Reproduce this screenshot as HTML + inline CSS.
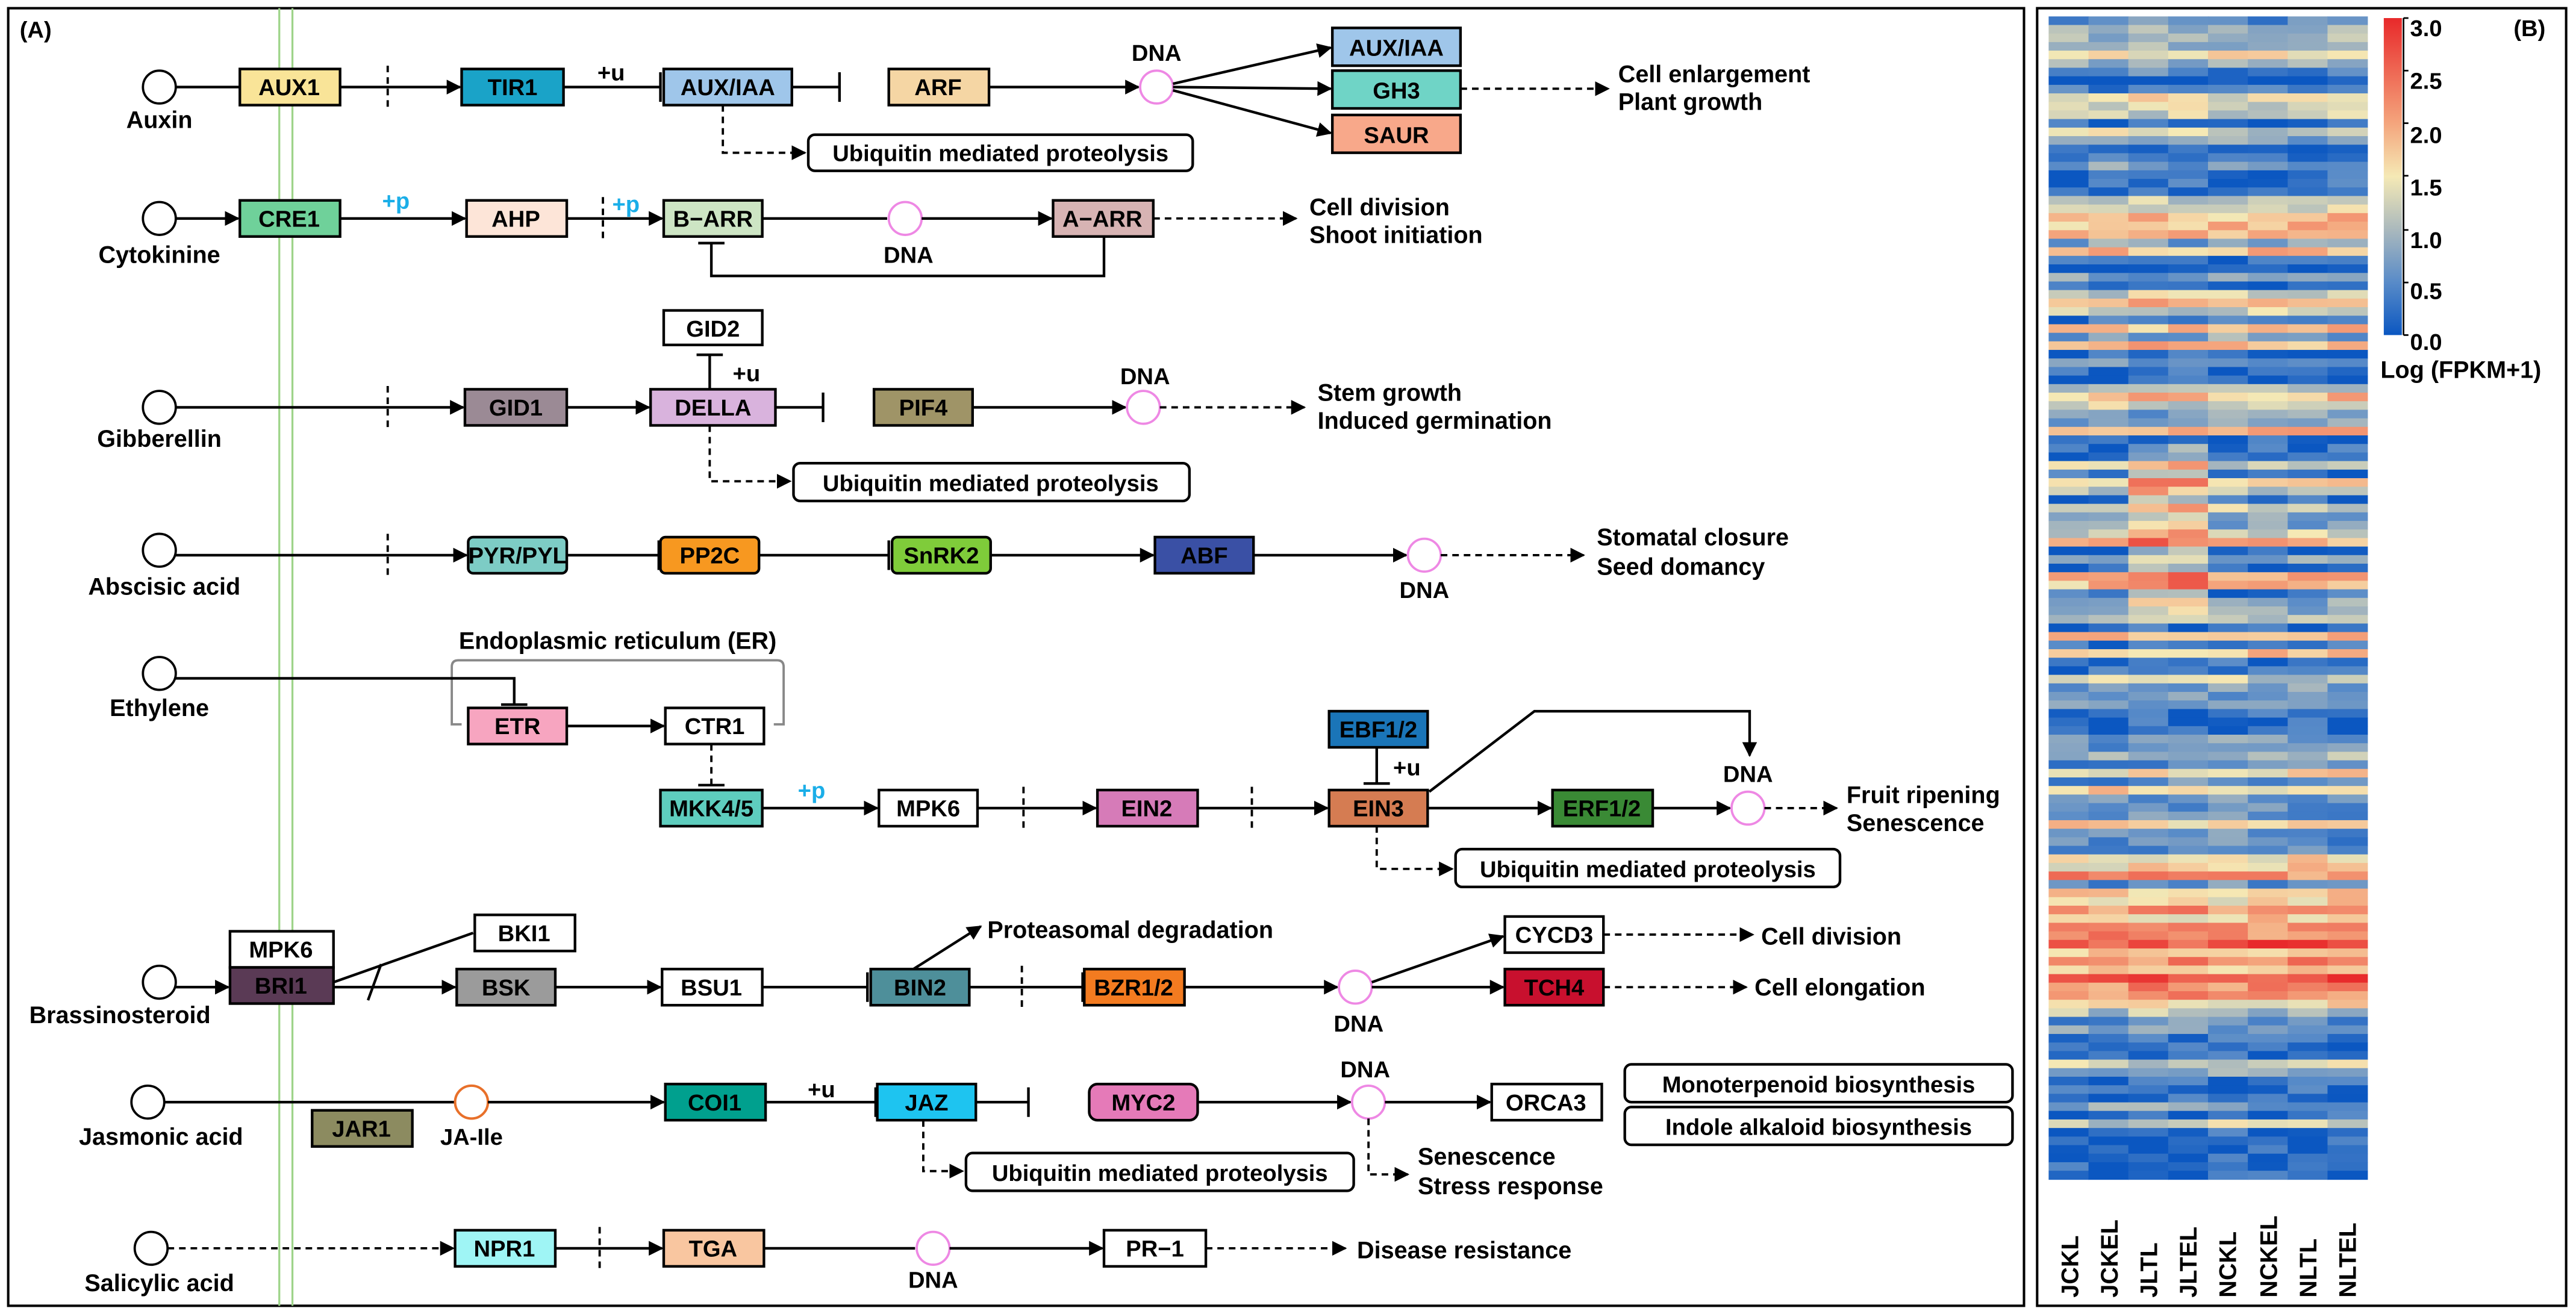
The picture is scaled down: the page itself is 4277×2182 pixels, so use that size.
<!DOCTYPE html>
<html><head><meta charset="utf-8"><style>
html,body{margin:0;padding:0;background:#fff}
svg{display:block}
text{font-family:"Liberation Sans Narrow","Liberation Sans",sans-serif;font-weight:bold;fill:#000}
.b{font-size:14px}
.l{font-size:14.5px}
.s{stroke:#000;stroke-width:1.6;fill:none}
.d{stroke:#000;stroke-width:1.4;fill:none;stroke-dasharray:4 3}
.bx{stroke:#000;stroke-width:1.6}
.c{fill:#fff;stroke:#000;stroke-width:1.4}
.p{fill:#fff;stroke:#ee88e4;stroke-width:1.4}
.cy{fill:#1aaee8}
</style></head><body>
<svg id="sv" width="4277" height="2182" viewBox="0 0 1568 800" preserveAspectRatio="none" xmlns="http://www.w3.org/2000/svg">
<defs><marker id="a" viewBox="0 0 10 10" refX="9" refY="5" markerWidth="9" markerHeight="9" markerUnits="userSpaceOnUse" orient="auto"><path d="M0,0L10,5L0,10z" fill="#000"/></marker></defs>
<rect x="0" y="0" width="1568" height="800" fill="#fff"/>
<rect x="5" y="5" width="1227" height="790" fill="none" stroke="#000" stroke-width="1.5"/>
<rect x="1240" y="5" width="322" height="790" fill="none" stroke="#000" stroke-width="1.5"/>
<line x1="170" y1="5" x2="170" y2="795" stroke="#9ed48a" stroke-width="1.2"/>
<line x1="178" y1="5" x2="178" y2="795" stroke="#9ed48a" stroke-width="1.2"/>
<text x="12" y="23" class="b">(A)</text>

<!-- Auxin -->
<line x1="107" y1="53" x2="146" y2="53" class="s"/>
<circle cx="97" cy="53" r="10" class="c"/>
<text x="97" y="78" class="l" text-anchor="middle">Auxin</text>
<rect x="146" y="42" width="61" height="22" fill="#f9e498" class="bx"/><text x="176" y="58" class="b" text-anchor="middle">AUX1</text>
<line x1="207" y1="53" x2="280" y2="53" class="s" marker-end="url(#a)"/>
<line x1="236" y1="40" x2="236" y2="67" class="d"/>
<rect x="281" y="42" width="62" height="22" fill="#1aa3c8" class="bx"/><text x="312" y="58" class="b" text-anchor="middle">TIR1</text>
<line x1="343" y1="53" x2="402" y2="53" class="s"/><line x1="402" y1="44" x2="402" y2="62" class="s"/>
<text x="372" y="49" class="b" text-anchor="middle">+u</text>
<rect x="404" y="42" width="78" height="22" fill="#9fc6ea" class="bx"/><text x="443" y="58" class="b" text-anchor="middle">AUX/IAA</text>
<line x1="482" y1="53" x2="511" y2="53" class="s"/><line x1="511" y1="44" x2="511" y2="62" class="s"/>
<rect x="541" y="42" width="61" height="22" fill="#f5d6a4" class="bx"/><text x="571" y="58" class="b" text-anchor="middle">ARF</text>
<line x1="602" y1="53" x2="693" y2="53" class="s" marker-end="url(#a)"/>
<circle cx="704" cy="53" r="10" class="p"/><text x="704" y="37" class="b" text-anchor="middle">DNA</text>
<line x1="714" y1="51" x2="810" y2="29" class="s" marker-end="url(#a)"/>
<line x1="714" y1="53" x2="810" y2="54" class="s" marker-end="url(#a)"/>
<line x1="714" y1="55" x2="810" y2="81" class="s" marker-end="url(#a)"/>
<rect x="811" y="17" width="78" height="23" fill="#9fc6ea" class="bx"/><text x="850" y="34" class="b" text-anchor="middle">AUX/IAA</text>
<rect x="811" y="43" width="78" height="23" fill="#6fd4c6" class="bx"/><text x="850" y="60" class="b" text-anchor="middle">GH3</text>
<rect x="811" y="70" width="78" height="23" fill="#f8a88a" class="bx"/><text x="850" y="87" class="b" text-anchor="middle">SAUR</text>
<line x1="889" y1="54" x2="979" y2="54" class="d" marker-end="url(#a)"/>
<text x="985" y="50" class="l">Cell enlargement</text><text x="985" y="67" class="l">Plant growth</text>
<polyline points="440,64 440,93 490,93" class="d" marker-end="url(#a)"/>
<rect x="492" y="82" width="234" height="22" rx="4" fill="#fff" class="bx"/><text x="609" y="98" class="b" text-anchor="middle">Ubiquitin mediated proteolysis</text>

<!-- Cytokinine -->
<line x1="107" y1="133" x2="145" y2="133" class="s" marker-end="url(#a)"/>
<circle cx="97" cy="133" r="10" class="c"/>
<text x="97" y="160" class="l" text-anchor="middle">Cytokinine</text>
<rect x="146" y="122" width="61" height="22" fill="#6fd19a" class="bx"/><text x="176" y="138" class="b" text-anchor="middle">CRE1</text>
<line x1="207" y1="133" x2="283" y2="133" class="s" marker-end="url(#a)"/>
<text x="241" y="127" class="b cy" text-anchor="middle">+p</text>
<rect x="284" y="122" width="61" height="22" fill="#fde5d8" class="bx"/><text x="314" y="138" class="b" text-anchor="middle">AHP</text>
<line x1="345" y1="133" x2="403" y2="133" class="s" marker-end="url(#a)"/>
<line x1="367" y1="120" x2="367" y2="146" class="d"/>
<text x="381" y="129" class="b cy" text-anchor="middle">+p</text>
<rect x="404" y="122" width="60" height="22" fill="#cde5c4" class="bx"/><text x="434" y="138" class="b" text-anchor="middle">B−ARR</text>
<line x1="464" y1="133" x2="540" y2="133" class="s"/>
<circle cx="551" cy="133" r="10" class="p"/><text x="553" y="160" class="b" text-anchor="middle">DNA</text>
<line x1="561" y1="133" x2="640" y2="133" class="s" marker-end="url(#a)"/>
<rect x="641" y="122" width="61" height="22" fill="#d7b3b3" class="bx"/><text x="671" y="138" class="b" text-anchor="middle">A−ARR</text>
<polyline points="672,144 672,168 433,168 433,148" class="s"/><line x1="425" y1="148" x2="441" y2="148" class="s"/>
<line x1="702" y1="133" x2="789" y2="133" class="d" marker-end="url(#a)"/>
<text x="797" y="131" class="l">Cell division</text><text x="797" y="148" class="l">Shoot initiation</text>

<!-- Gibberellin -->
<line x1="107" y1="248" x2="282" y2="248" class="s" marker-end="url(#a)"/>
<circle cx="97" cy="248" r="10" class="c"/>
<text x="97" y="272" class="l" text-anchor="middle">Gibberellin</text>
<line x1="236" y1="235" x2="236" y2="261" class="d"/>
<rect x="283" y="237" width="62" height="22" fill="#9b8a95" class="bx"/><text x="314" y="253" class="b" text-anchor="middle">GID1</text>
<line x1="345" y1="248" x2="395" y2="248" class="s" marker-end="url(#a)"/>
<rect x="404" y="189" width="60" height="21" fill="#fff" class="bx"/><text x="434" y="205" class="b" text-anchor="middle">GID2</text>
<line x1="432" y1="216" x2="432" y2="237" class="s"/><line x1="424" y1="216" x2="440" y2="216" class="s"/>
<text x="446" y="232" class="b">+u</text>
<rect x="396" y="237" width="76" height="22" fill="#d9b3dd" class="bx"/><text x="434" y="253" class="b" text-anchor="middle">DELLA</text>
<line x1="472" y1="248" x2="501" y2="248" class="s"/><line x1="501" y1="239" x2="501" y2="257" class="s"/>
<rect x="532" y="237" width="60" height="22" fill="#9f9467" class="bx"/><text x="562" y="253" class="b" text-anchor="middle">PIF4</text>
<line x1="592" y1="248" x2="685" y2="248" class="s" marker-end="url(#a)"/>
<circle cx="696" cy="248" r="10" class="p"/><text x="697" y="234" class="b" text-anchor="middle">DNA</text>
<line x1="706" y1="248" x2="794" y2="248" class="d" marker-end="url(#a)"/>
<text x="802" y="244" class="l">Stem growth</text><text x="802" y="261" class="l">Induced germination</text>
<polyline points="432,259 432,293 481,293" class="d" marker-end="url(#a)"/>
<rect x="483" y="282" width="241" height="23" rx="4" fill="#fff" class="bx"/><text x="603" y="299" class="b" text-anchor="middle">Ubiquitin mediated proteolysis</text>

<!-- Abscisic acid -->
<line x1="107" y1="338" x2="284" y2="338" class="s" marker-end="url(#a)"/>
<circle cx="97" cy="335" r="10" class="c"/>
<text x="100" y="362" class="l" text-anchor="middle">Abscisic acid</text>
<line x1="236" y1="325" x2="236" y2="351" class="d"/>
<rect x="285" y="327" width="60" height="22" rx="3" fill="#7dccc5" class="bx"/><text x="315" y="343" class="b" text-anchor="middle">PYR/PYL</text>
<line x1="345" y1="338" x2="401" y2="338" class="s"/><line x1="401" y1="329" x2="401" y2="347" class="s"/>
<rect x="402" y="327" width="60" height="22" rx="3" fill="#f79820" class="bx"/><text x="432" y="343" class="b" text-anchor="middle">PP2C</text>
<line x1="462" y1="338" x2="541" y2="338" class="s"/><line x1="541" y1="329" x2="541" y2="347" class="s"/>
<rect x="543" y="327" width="60" height="22" rx="3" fill="#7fcc3a" class="bx"/><text x="573" y="343" class="b" text-anchor="middle">SnRK2</text>
<line x1="603" y1="338" x2="702" y2="338" class="s" marker-end="url(#a)"/>
<rect x="703" y="327" width="60" height="22" fill="#3a50a5" class="bx"/><text x="733" y="343" class="b" text-anchor="middle">ABF</text>
<line x1="763" y1="338" x2="856" y2="338" class="s" marker-end="url(#a)"/>
<circle cx="867" cy="338" r="10" class="p"/><text x="867" y="364" class="b" text-anchor="middle">DNA</text>
<line x1="877" y1="338" x2="964" y2="338" class="d" marker-end="url(#a)"/>
<text x="972" y="332" class="l">Stomatal closure</text><text x="972" y="350" class="l">Seed domancy</text>

<!-- Ethylene -->
<path d="M281,441 L275,441 L275,406 Q275,402 279,402 L473,402 Q477,402 477,406 L477,441 L471,441" fill="none" stroke="#888" stroke-width="1.4"/>
<text x="376" y="395" class="l" text-anchor="middle">Endoplasmic reticulum (ER)</text>
<polyline points="107,413 313,413 313,429" class="s"/><line x1="305" y1="429" x2="321" y2="429" class="s"/>
<circle cx="97" cy="410" r="10" class="c"/>
<text x="97" y="436" class="l" text-anchor="middle">Ethylene</text>
<rect x="285" y="431" width="60" height="22" fill="#f7a5c0" class="bx"/><text x="315" y="447" class="b" text-anchor="middle">ETR</text>
<line x1="345" y1="442" x2="404" y2="442" class="s" marker-end="url(#a)"/>
<rect x="405" y="431" width="60" height="22" fill="#fff" class="bx"/><text x="435" y="447" class="b" text-anchor="middle">CTR1</text>
<line x1="433" y1="453" x2="433" y2="478" class="d"/><line x1="425" y1="478" x2="441" y2="478" class="s"/>
<rect x="402" y="481" width="62" height="22" fill="#5ecdbe" class="bx"/><text x="433" y="497" class="b" text-anchor="middle">MKK4/5</text>
<line x1="464" y1="492" x2="534" y2="492" class="s" marker-end="url(#a)"/>
<text x="494" y="486" class="b cy" text-anchor="middle">+p</text>
<rect x="535" y="481" width="60" height="22" fill="#fff" class="bx"/><text x="565" y="497" class="b" text-anchor="middle">MPK6</text>
<line x1="595" y1="492" x2="667" y2="492" class="s" marker-end="url(#a)"/>
<line x1="623" y1="479" x2="623" y2="505" class="d"/>
<rect x="668" y="481" width="61" height="22" fill="#d67bb8" class="bx"/><text x="698" y="497" class="b" text-anchor="middle">EIN2</text>
<line x1="729" y1="492" x2="808" y2="492" class="s" marker-end="url(#a)"/>
<line x1="762" y1="479" x2="762" y2="505" class="d"/>
<rect x="809" y="433" width="60" height="22" fill="#1a75b8" class="bx"/><text x="839" y="449" class="b" text-anchor="middle">EBF1/2</text>
<line x1="838" y1="455" x2="838" y2="477" class="s"/><line x1="830" y1="477" x2="846" y2="477" class="s"/>
<text x="848" y="472" class="b">+u</text>
<rect x="809" y="481" width="60" height="22" fill="#d57c52" class="bx"/><text x="839" y="497" class="b" text-anchor="middle">EIN3</text>
<line x1="869" y1="492" x2="944" y2="492" class="s" marker-end="url(#a)"/>
<polyline points="870,482 934,433 1065,433 1065,460" class="s" marker-end="url(#a)"/>
<rect x="945" y="481" width="61" height="22" fill="#3a8a35" class="bx"/><text x="975" y="497" class="b" text-anchor="middle">ERF1/2</text>
<line x1="1006" y1="492" x2="1053" y2="492" class="s" marker-end="url(#a)"/>
<circle cx="1064" cy="492" r="10" class="p"/><text x="1064" y="476" class="b" text-anchor="middle">DNA</text>
<line x1="1074" y1="492" x2="1118" y2="492" class="d" marker-end="url(#a)"/>
<text x="1124" y="489" class="l">Fruit ripening</text><text x="1124" y="506" class="l">Senescence</text>
<polyline points="838,503 838,529 884,529" class="d" marker-end="url(#a)"/>
<rect x="886" y="517" width="234" height="23" rx="4" fill="#fff" class="bx"/><text x="1003" y="534" class="b" text-anchor="middle">Ubiquitin mediated proteolysis</text>

<!-- Brassinosteroid -->
<line x1="107" y1="601" x2="139" y2="601" class="s" marker-end="url(#a)"/>
<circle cx="97" cy="598" r="10" class="c"/>
<text x="73" y="623" class="l" text-anchor="middle">Brassinosteroid</text>
<rect x="140" y="567" width="63" height="22" fill="#fff" class="bx"/><text x="171" y="583" class="b" text-anchor="middle">MPK6</text>
<rect x="140" y="589" width="63" height="22" fill="#5a3a55" class="bx"/><text x="171" y="605" class="b" text-anchor="middle">BRI1</text>
<line x1="203" y1="598" x2="288" y2="568" class="s"/><line x1="224" y1="609" x2="232" y2="587" class="s"/>
<rect x="289" y="557" width="61" height="22" fill="#fff" class="bx"/><text x="319" y="573" class="b" text-anchor="middle">BKI1</text>
<line x1="203" y1="601" x2="277" y2="601" class="s" marker-end="url(#a)"/>
<rect x="278" y="590" width="60" height="22" fill="#9b9b9b" class="bx"/><text x="308" y="606" class="b" text-anchor="middle">BSK</text>
<line x1="338" y1="601" x2="402" y2="601" class="s" marker-end="url(#a)"/>
<rect x="403" y="590" width="61" height="22" fill="#fff" class="bx"/><text x="433" y="606" class="b" text-anchor="middle">BSU1</text>
<line x1="464" y1="601" x2="528" y2="601" class="s"/><line x1="528" y1="592" x2="528" y2="610" class="s"/>
<rect x="530" y="590" width="60" height="22" fill="#4e8f9a" class="bx"/><text x="560" y="606" class="b" text-anchor="middle">BIN2</text>
<line x1="556" y1="590" x2="597" y2="564" class="s" marker-end="url(#a)"/>
<text x="601" y="571" class="l">Proteasomal degradation</text>
<line x1="590" y1="601" x2="659" y2="601" class="s"/><line x1="659" y1="592" x2="659" y2="610" class="s"/>
<line x1="622" y1="588" x2="622" y2="614" class="d"/>
<rect x="660" y="590" width="61" height="22" fill="#f37b20" class="bx"/><text x="690" y="606" class="b" text-anchor="middle">BZR1/2</text>
<line x1="721" y1="601" x2="814" y2="601" class="s" marker-end="url(#a)"/>
<circle cx="825" cy="601" r="10" class="p"/><text x="827" y="628" class="b" text-anchor="middle">DNA</text>
<line x1="835" y1="598" x2="915" y2="570" class="s" marker-end="url(#a)"/>
<line x1="835" y1="601" x2="915" y2="601" class="s" marker-end="url(#a)"/>
<rect x="916" y="558" width="60" height="22" fill="#fff" class="bx"/><text x="946" y="574" class="b" text-anchor="middle">CYCD3</text>
<rect x="916" y="590" width="60" height="22" fill="#c8102e" class="bx"/><text x="946" y="606" class="b" text-anchor="middle">TCH4</text>
<line x1="976" y1="569" x2="1067" y2="569" class="d" marker-end="url(#a)"/>
<line x1="976" y1="601" x2="1063" y2="601" class="d" marker-end="url(#a)"/>
<text x="1072" y="575" class="l">Cell division</text><text x="1068" y="606" class="l">Cell elongation</text>

<!-- Jasmonic acid -->
<line x1="100" y1="671" x2="277" y2="671" class="s"/>
<circle cx="90" cy="671" r="10" class="c"/>
<text x="98" y="697" class="l" text-anchor="middle">Jasmonic acid</text>
<rect x="190" y="676" width="61" height="22" fill="#8c8b60" class="bx"/><text x="220" y="692" class="b" text-anchor="middle">JAR1</text>
<circle cx="287" cy="671" r="10" fill="#fff" stroke="#e8702a" stroke-width="1.5"/>
<text x="287" y="697" class="b" text-anchor="middle">JA-Ile</text>
<line x1="297" y1="671" x2="404" y2="671" class="s" marker-end="url(#a)"/>
<rect x="405" y="660" width="61" height="22" fill="#00a08e" class="bx"/><text x="435" y="676" class="b" text-anchor="middle">COI1</text>
<line x1="466" y1="671" x2="533" y2="671" class="s"/><line x1="533" y1="662" x2="533" y2="680" class="s"/>
<text x="500" y="668" class="b" text-anchor="middle">+u</text>
<rect x="534" y="660" width="60" height="22" fill="#1ec4f0" class="bx"/><text x="564" y="676" class="b" text-anchor="middle">JAZ</text>
<line x1="594" y1="671" x2="626" y2="671" class="s"/><line x1="626" y1="662" x2="626" y2="680" class="s"/>
<rect x="663" y="660" width="66" height="22" rx="5" fill="#e57ab8" class="bx"/><text x="696" y="676" class="b" text-anchor="middle">MYC2</text>
<line x1="729" y1="671" x2="822" y2="671" class="s" marker-end="url(#a)"/>
<circle cx="833" cy="671" r="10" class="p"/><text x="831" y="656" class="b" text-anchor="middle">DNA</text>
<line x1="843" y1="671" x2="907" y2="671" class="s" marker-end="url(#a)"/>
<rect x="908" y="660" width="67" height="22" fill="#fff" class="bx"/><text x="941" y="676" class="b" text-anchor="middle">ORCA3</text>
<rect x="989" y="648" width="236" height="23" rx="4" fill="#fff" class="bx"/><text x="1107" y="665" class="b" text-anchor="middle">Monoterpenoid biosynthesis</text>
<rect x="989" y="674" width="236" height="23" rx="4" fill="#fff" class="bx"/><text x="1107" y="691" class="b" text-anchor="middle">Indole alkaloid biosynthesis</text>
<polyline points="833,681 833,715 857,715" class="d" marker-end="url(#a)"/>
<text x="863" y="709" class="l">Senescence</text><text x="863" y="727" class="l">Stress response</text>
<polyline points="562,682 562,713 586,713" class="d" marker-end="url(#a)"/>
<rect x="588" y="702" width="236" height="23" rx="4" fill="#fff" class="bx"/><text x="706" y="719" class="b" text-anchor="middle">Ubiquitin mediated proteolysis</text>

<!-- Salicylic acid -->
<line x1="102" y1="760" x2="276" y2="760" class="d" marker-end="url(#a)"/>
<circle cx="92" cy="760" r="10" class="c"/>
<text x="97" y="786" class="l" text-anchor="middle">Salicylic acid</text>
<rect x="277" y="749" width="61" height="22" fill="#9ff5f5" class="bx"/><text x="307" y="765" class="b" text-anchor="middle">NPR1</text>
<line x1="338" y1="760" x2="403" y2="760" class="s" marker-end="url(#a)"/>
<line x1="365" y1="747" x2="365" y2="773" class="d"/>
<rect x="404" y="749" width="61" height="22" fill="#f9c6a0" class="bx"/><text x="434" y="765" class="b" text-anchor="middle">TGA</text>
<line x1="465" y1="760" x2="557" y2="760" class="s"/>
<circle cx="568" cy="760" r="10" class="p"/><text x="568" y="784" class="b" text-anchor="middle">DNA</text>
<line x1="578" y1="760" x2="671" y2="760" class="s" marker-end="url(#a)"/>
<rect x="672" y="749" width="62" height="22" fill="#fff" class="bx"/><text x="703" y="765" class="b" text-anchor="middle">PR−1</text>
<line x1="734" y1="760" x2="819" y2="760" class="d" marker-end="url(#a)"/>
<text x="826" y="766" class="l">Disease resistance</text>

<!-- Heatmap -->
<g id="hm"></g>
<defs><linearGradient id="cb" x1="0" y1="0" x2="0" y2="1">
<stop offset="0" stop-color="#e8292a"/><stop offset="0.33" stop-color="#f4a47c"/><stop offset="0.5" stop-color="#f5e9b5"/><stop offset="0.67" stop-color="#a9b8bd"/><stop offset="0.83" stop-color="#5a8cc8"/><stop offset="1" stop-color="#0b57c1"/></linearGradient></defs>
<rect x="1451" y="11" width="11" height="193" fill="url(#cb)"/>
<line x1="1463" y1="11" x2="1463" y2="204" stroke="#000" stroke-width="1"/>
<g stroke="#000" stroke-width="1"><line x1="1463" y1="11" x2="1466" y2="11"/><line x1="1463" y1="43" x2="1466" y2="43"/><line x1="1463" y1="75" x2="1466" y2="75"/><line x1="1463" y1="107" x2="1466" y2="107"/><line x1="1463" y1="140" x2="1466" y2="140"/><line x1="1463" y1="172" x2="1466" y2="172"/><line x1="1463" y1="204" x2="1466" y2="204"/></g>
<g font-size="14"><text x="1467" y="22">3.0</text><text x="1467" y="54">2.5</text><text x="1467" y="87">2.0</text><text x="1467" y="119">1.5</text><text x="1467" y="151">1.0</text><text x="1467" y="182">0.5</text><text x="1467" y="213">0.0</text></g>
<text x="1449" y="230" class="l">Log (FPKM+1)</text>
<text x="1530" y="22" class="b">(B)</text>
<g font-size="14.5">
<text transform="translate(1265,790) rotate(-90)">JCKL</text>
<text transform="translate(1289,790) rotate(-90)">JCKEL</text>
<text transform="translate(1313,790) rotate(-90)">JLTL</text>
<text transform="translate(1337,790) rotate(-90)">JLTEL</text>
<text transform="translate(1361,790) rotate(-90)">NCKL</text>
<text transform="translate(1386,790) rotate(-90)">NCKEL</text>
<text transform="translate(1410,790) rotate(-90)">NLTL</text>
<text transform="translate(1434,790) rotate(-90)">NLTEL</text>
</g>
</svg>
<script>
(function(){
var s=12345;function r(){s=(s*1103515245+12345)%2147483648;return s/2147483648;}
var stops=[[0,[11,87,193]],[0.5,[90,140,200]],[1.0,[169,184,189]],[1.5,[245,233,181]],[2.0,[244,164,124]],[3.0,[232,41,42]]];
function col(v){if(v<0)v=0;if(v>3)v=3;for(var i=1;i<stops.length;i++){if(v<=stops[i][0]){var a=stops[i-1],b=stops[i],t=(v-a[0])/(b[0]-a[0]);return 'rgb('+[0,1,2].map(function(k){return Math.round(a[1][k]+(b[1][k]-a[1][k])*t)}).join(',')+')';}}return 'rgb(232,41,42)';}
var g=document.getElementById('hm'),y0=10,y1=718,n=136,h=(y1-y0)/n,x0=1247,w=(1441-1247)/8,out='';
for(var i=0;i<n;i++){var y=y0+i*h;var q=r();var base=q<0.38?0.2:q<0.66?0.75:q<0.88?1.25:1.8;
if(y>690)base=0.15;
for(var c=0;c<8;c++){var v=base+(r()-0.5)*0.7;
if(y>270&&y<370&&(c==2||c==3))v+=0.7;
if(y>450&&y<620)v+=0.35;
if(y>555&&y<600)v+=1.1;
if(y<60)v-=0.3;
out+='<rect x="'+(x0+c*w).toFixed(2)+'" y="'+y.toFixed(2)+'" width="'+(w+0.3).toFixed(2)+'" height="'+(h+0.3).toFixed(2)+'" fill="'+col(v)+'"/>';}}
g.innerHTML=out;
})();
</script>
</body></html>
